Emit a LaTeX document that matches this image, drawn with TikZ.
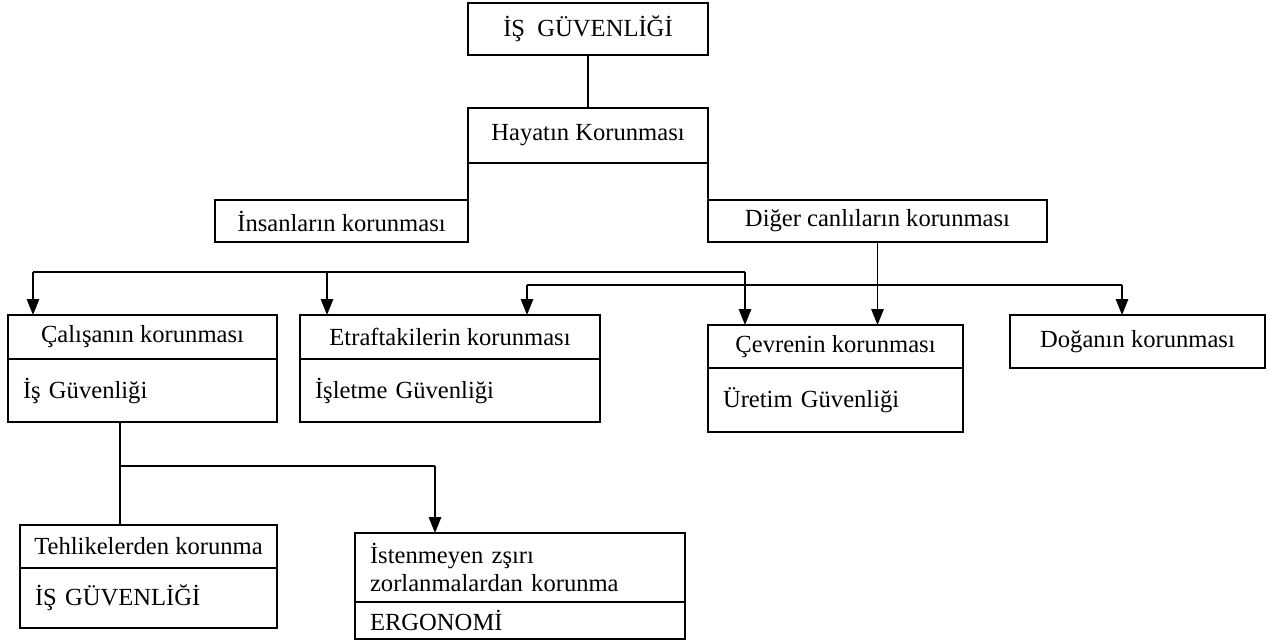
\documentclass[tikz,border=0pt]{standalone}
\usepackage{fontspec}
\setmainfont{Liberation Serif}
\usepackage{tikz}
\usetikzlibrary{positioning,arrows.meta}
\tikzset{
  kutu/.style={draw=black, line width=0.9pt, rectangle, inner sep=0pt, outer sep=0pt, font=\fontsize{14}{15.5}\selectfont},
  altkutu/.style={kutu, align=left, inner xsep=0.3cm},
  ok/.style={line width=0.9pt, -{Triangle[width=7pt,length=9pt]}},
  cizgi/.style={line width=0.9pt}
}

\begin{document}
\begin{tikzpicture}[x=0.02cm, y=-0.02cm]
  \useasboundingbox (0,0) rectangle (1274,643);

  % Top of the tree
  \node[kutu, minimum width=4.8cm, minimum height=1.04cm] (is) at (588,29) {İŞ\ \ GÜVENLİĞİ};
  \node[kutu, minimum width=4.8cm, minimum height=1.1cm] (hayat) at (588,135.5) {Hayatın Korunması};
  \node[kutu, minimum width=5.06cm, minimum height=0.84cm] (insan) at (341.5,221) {İnsanların korunması};
  \node[kutu, minimum width=6.78cm, minimum height=0.84cm] (diger) at (877.5,221) {Diğer canlıların korunması};

  \draw[cizgi] (is.south) -- (hayat.north);
  \draw[cizgi] (hayat.south west) -- (insan.north east);
  \draw[cizgi] (hayat.south east) -- (diger.north west);

  % Second row: upper part and lower part of each box
  \node[kutu, minimum width=5.38cm, minimum height=0.88cm] (calisanU) at (142.5,337) {Çalışanın korunması};
  \node[altkutu, text width=4.78cm, minimum height=1.26cm] (calisanA) at (142.5,390.5) {İş Güvenliği};

  \node[kutu, minimum width=6.0cm, minimum height=0.88cm] (etrafU) at (450,337) {Etraftakilerin korunması};
  \node[altkutu, text width=5.4cm, minimum height=1.26cm] (etrafA) at (450,390.5) {İşletme Güvenliği};

  \node[kutu, minimum width=5.1cm, minimum height=0.86cm] (cevreU) at (835.5,346.5) {Çevrenin korunması};
  \node[altkutu, text width=4.5cm, minimum height=1.28cm] (cevreA) at (835.5,400) {Üretim Güvenliği};

  \node[kutu, minimum width=5.1cm, minimum height=1.06cm] (dogan) at (1137.5,341.5) {Doğanın korunması};

  % Horizontal distribution lines
  \coordinate (k1) at (33,272);
  \coordinate (k2) at (327,272);
  \coordinate (k3) at (745,272);
  \coordinate (m1) at (527,285);
  \coordinate (m2) at (1122,285);

  \draw[cizgi] (k1) -- (k3);
  \draw[ok] (k1) -- (k1 |- calisanU.north);
  \draw[ok] (k2) -- (k2 |- etrafU.north);
  \draw[ok] (k3) -- (k3 |- cevreU.north);

  \draw[cizgi] (m1) -- (m2);
  \draw[ok] (m1) -- (m1 |- etrafU.north);
  \draw[ok] (m2) -- (m2 |- dogan.north);

  \draw[ok] (diger.south) -- (diger.south |- cevreU.north);

  % Third row
  \node[kutu, minimum width=5.14cm, minimum height=0.86cm] (tehlikeU) at (148.5,546.5) {Tehlikelerden korunma};
  \node[altkutu, text width=4.54cm, minimum height=1.2cm] (tehlikeA) at (148.5,598) {İŞ GÜVENLİĞİ};

  \node[altkutu, text width=6.0cm, minimum height=1.38cm] (istenU) at (520,567.5) {İstenmeyen zşırı\\zorlanmalardan korunma};
  \node[altkutu, text width=6.0cm, minimum height=0.74cm] (istenA) at (520,620.5) {ERGONOMİ};

  \coordinate (d1) at (120,466);
  \coordinate (d2) at (435,466);
  \draw[cizgi] (calisanA.south -| d1) -- (tehlikeU.north -| d1);
  \draw[cizgi] (d1) -- (d2);
  \draw[ok] (d2) -- (d2 |- istenU.north);
\end{tikzpicture}
\end{document}
